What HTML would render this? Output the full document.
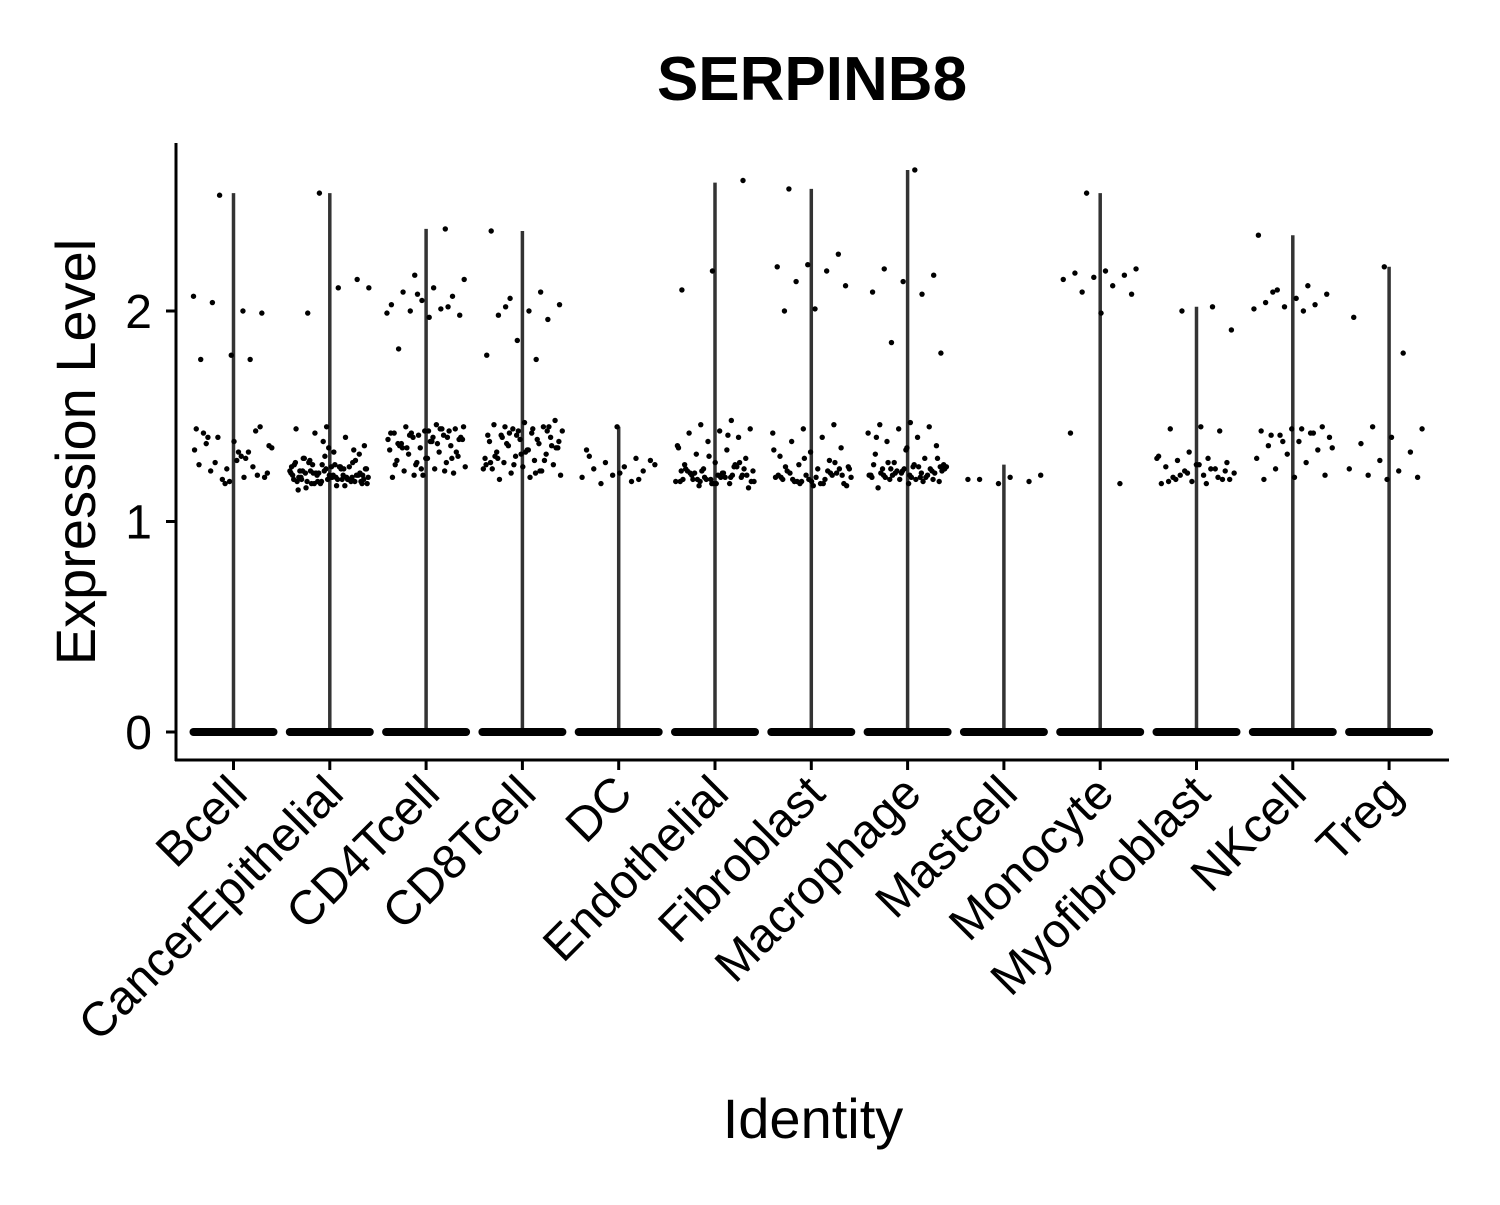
<!DOCTYPE html>
<html><head><meta charset="utf-8"><style>
body{margin:0;background:#fff}
svg text{font-family:"Liberation Sans",Arial,sans-serif}
</style></head><body>
<svg id="chart" width="1500" height="1200" viewBox="0 0 1500 1200" xmlns="http://www.w3.org/2000/svg">
<text x="812" y="100" font-size="62" font-weight="bold" text-anchor="middle">SERPINB8</text>
<g id="plot"></g>
<line x1="176" y1="143" x2="176" y2="761" stroke="#000" stroke-width="3"/>
<line x1="175" y1="760" x2="1449" y2="760" stroke="#000" stroke-width="3"/>
<g id="yticks"></g>
<g id="xticks"></g>
<text transform="translate(95,452) rotate(-90)" font-size="56" text-anchor="middle">Expression Level</text>
<text x="813" y="1138" font-size="56" text-anchor="middle">Identity</text>
</svg>
<script>
const categories=["Bcell","CancerEpithelial","CD4Tcell","CD8Tcell","DC","Endothelial","Fibroblast","Macrophage","Mastcell","Monocyte","Myofibroblast","NKcell","Treg"];
const maxValues=[2.56,2.56,2.39,2.38,1.45,2.61,2.58,2.67,1.27,2.56,2.02,2.36,2.21];
const yTicks=[0,1,2];
const ptsBcell=[2.07,2.0,2.04,1.99,1.79,1.77,1.77,2.55,1.36,1.33,1.40,1.22,1.25,1.44,1.30,1.28,1.21,1.38,1.42,1.26,1.20,1.35,1.31,1.24,1.45,1.19,1.27,1.33,1.40,1.23,1.29,1.37,1.43,1.18,1.34,1.21];
const ptsCancerEpithelial=[2.56,2.11,2.11,1.99,2.15,1.45,1.44,1.40,1.42,1.36,1.33,1.30,1.28,1.27,1.26,1.25,1.24,1.23,1.22,1.21,1.20,1.19,1.18,1.17,1.16,1.29,1.31,1.27,1.25,1.23,1.22,1.21,1.20,1.19,1.18,1.24,1.26,1.28,1.22,1.20,1.19,1.21,1.23,1.25,1.27,1.30,1.34,1.38,1.22,1.20,1.18,1.19,1.21,1.24,1.26,1.23,1.21,1.20,1.19,1.22,1.25,1.28,1.17,1.18,1.20,1.22,1.24,1.21,1.19,1.23,1.26,1.29,1.32,1.35,1.15,1.20,1.22,1.25,1.21,1.23,1.19,1.24,1.20,1.22,1.27,1.18,1.26,1.21];
const ptsCD4Tcell=[2.39,2.17,2.15,2.11,2.09,2.07,2.05,2.03,2.01,2.0,1.98,1.97,1.82,2.02,2.08,1.99,1.46,1.45,1.44,1.43,1.42,1.41,1.40,1.39,1.38,1.37,1.36,1.35,1.34,1.33,1.32,1.31,1.30,1.29,1.28,1.27,1.26,1.25,1.24,1.23,1.22,1.21,1.44,1.42,1.40,1.38,1.36,1.43,1.41,1.39,1.37,1.35,1.33,1.30,1.27,1.24,1.22,1.45,1.40,1.35,1.30,1.25,1.42,1.44,1.41,1.39,1.43,1.37,1.40,1.28];
const ptsCD8Tcell=[2.38,2.09,2.06,2.03,2.0,1.98,1.96,1.86,1.79,1.77,2.02,1.48,1.47,1.46,1.45,1.44,1.43,1.42,1.41,1.40,1.39,1.38,1.37,1.36,1.35,1.34,1.33,1.32,1.31,1.30,1.29,1.28,1.27,1.26,1.25,1.24,1.23,1.22,1.21,1.20,1.45,1.43,1.41,1.39,1.37,1.35,1.33,1.31,1.29,1.27,1.25,1.44,1.40,1.36,1.32,1.28,1.24,1.42,1.38,1.34,1.30,1.43,1.41,1.27,1.23,1.45];
const ptsDC=[1.45,1.34,1.30,1.28,1.27,1.26,1.25,1.24,1.22,1.21,1.19,1.18,1.29,1.23,1.31,1.20];
const ptsEndothelial=[2.62,2.19,2.10,1.48,1.46,1.44,1.43,1.42,1.40,1.38,1.36,1.34,1.32,1.30,1.28,1.27,1.26,1.25,1.24,1.23,1.22,1.21,1.20,1.19,1.18,1.17,1.16,1.22,1.24,1.26,1.20,1.19,1.21,1.23,1.25,1.18,1.20,1.22,1.24,1.19,1.21,1.23,1.28,1.31,1.35,1.41,1.20,1.22,1.18,1.25,1.27,1.21,1.19,1.23,1.20,1.22,1.18,1.24,1.21,1.19];
const ptsFibroblast=[2.58,2.27,2.22,2.21,2.19,2.14,2.12,2.01,2.0,1.46,1.44,1.42,1.40,1.38,1.35,1.33,1.31,1.29,1.27,1.26,1.25,1.24,1.23,1.22,1.21,1.20,1.19,1.18,1.17,1.20,1.22,1.19,1.21,1.18,1.23,1.25,1.20,1.22,1.24,1.19,1.17,1.21,1.26,1.28,1.30,1.34,1.18,1.20,1.22,1.19,1.21,1.23,1.18,1.25];
const ptsMacrophage=[2.67,2.20,2.17,2.14,2.09,2.08,1.85,1.80,1.47,1.46,1.45,1.44,1.42,1.40,1.38,1.36,1.34,1.32,1.30,1.28,1.27,1.26,1.25,1.24,1.23,1.22,1.21,1.20,1.19,1.18,1.16,1.22,1.24,1.26,1.20,1.21,1.23,1.25,1.27,1.19,1.22,1.24,1.21,1.23,1.25,1.20,1.22,1.26,1.28,1.30,1.35,1.40,1.21,1.23,1.25,1.27,1.22,1.20,1.24,1.21,1.23,1.25,1.26,1.22];
const ptsMastcell=[1.22,1.21,1.20,1.19,1.18,1.20];
const ptsMonocyte=[2.56,2.20,2.19,2.18,2.17,2.16,2.15,2.12,2.09,2.08,1.99,1.42,1.18];
const ptsMyofibroblast=[2.02,2.0,1.91,1.45,1.44,1.43,1.33,1.31,1.30,1.29,1.28,1.27,1.26,1.25,1.24,1.23,1.22,1.21,1.20,1.19,1.18,1.25,1.22,1.20,1.27,1.19,1.21,1.23,1.30,1.18,1.20,1.24];
const ptsNKcell=[2.36,2.12,2.10,2.08,2.06,2.04,2.03,2.02,2.01,2.0,2.09,1.45,1.44,1.43,1.42,1.41,1.40,1.38,1.36,1.34,1.32,1.30,1.28,1.25,1.22,1.21,1.20,1.42,1.38,1.35,1.44,1.41];
const ptsTreg=[2.21,1.97,1.80,1.45,1.44,1.40,1.37,1.33,1.29,1.25,1.24,1.22,1.21,1.20];
const allPoints=[ptsBcell,ptsCancerEpithelial,ptsCD4Tcell,ptsCD8Tcell,ptsDC,ptsEndothelial,ptsFibroblast,ptsMacrophage,ptsMastcell,ptsMonocyte,ptsMyofibroblast,ptsNKcell,ptsTreg];

const NS='http://www.w3.org/2000/svg';
const x0=233.5, step=96.3;
const xScale=i=>x0+i*step;
const yScale=v=>732-v*210.5;
function mk(tag,attrs,parent){const e=document.createElementNS(NS,tag);for(const k in attrs)e.setAttribute(k,attrs[k]);parent.appendChild(e);return e;}
const plot=document.getElementById('plot');
const yt=document.getElementById('yticks');
const xt=document.getElementById('xticks');
yTicks.forEach(t=>{
  const l=mk('line',{x1:166,x2:176,y1:yScale(t),y2:yScale(t),stroke:'#000','stroke-width':3},yt);
  
  
  const tx=mk('text',{x:152,y:yScale(t)+17,'font-size':48,'text-anchor':'end'},yt);
  tx.textContent=t;
  
  
});
categories.forEach((c,i)=>{
  const cx=xScale(i);
  const g=mk('g',{},plot);
  
  
  const ln=mk('line',{x1:cx,x2:cx,y1:yScale(0),y2:yScale(maxValues[i]),stroke:'#333','stroke-width':3.5},g);
  
  
  const band=mk('rect',{x:cx-44,y:yScale(0)-4,width:88,height:8,rx:4,fill:'#000'},g);
  
  
  allPoints[i].forEach((v,j)=>{
    const jx=(((j*0.6180339+i*0.37)%1)-0.5)*80;
    const p=mk('circle',{cx:cx+jx,cy:yScale(v),r:2.7,fill:'#000'},g);
    
    
  });
  const tk=mk('line',{x1:cx,x2:cx,y1:760,y2:770,stroke:'#000','stroke-width':3},xt);
  
  
  const tx=mk('text',{transform:`translate(${cx+16},${796}) rotate(-45)`,'font-size':48,'text-anchor':'end'},xt);
  tx.textContent=c;
  
  
});
</script>
</body></html>
